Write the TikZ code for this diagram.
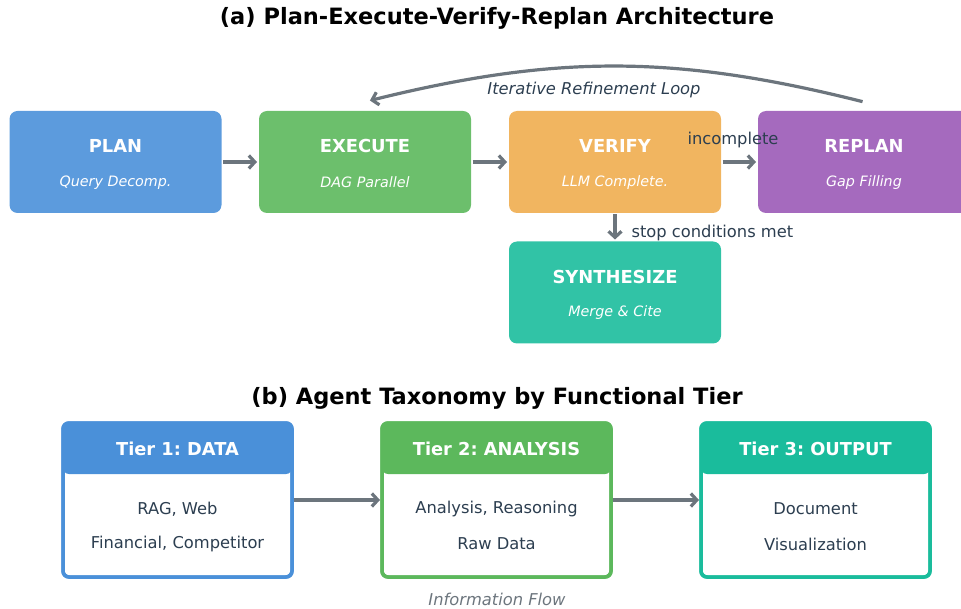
\documentclass[tikz,border=0pt]{standalone}
\usepackage{fontspec}
\setmainfont{DejaVu Sans}
\usetikzlibrary{arrows.meta,positioning}
\frenchspacing

\definecolor{planc}{HTML}{5C9BDD}
\definecolor{execc}{HTML}{6CBF6C}
\definecolor{verc}{HTML}{F1B560}
\definecolor{replc}{HTML}{A56ABE}
\definecolor{sync}{HTML}{31C3A6}
\definecolor{tieronec}{HTML}{4A90D9}
\definecolor{tiertwoc}{HTML}{5CB85C}
\definecolor{tierthreec}{HTML}{1ABC9C}
\definecolor{inkc}{HTML}{2C3E50}
\definecolor{flowc}{HTML}{6C757D}

\newcommand{\fs}[1]{\fontsize{#1}{#1}\selectfont}

\begin{document}
\begin{tikzpicture}[x=1pt,y=-1pt,
    stage/.style={rounded corners=8pt, minimum width=212pt, minimum height=102pt,
      inner sep=0pt, outer sep=0pt},
    stagetitle/.style={text=white, font=\fs{17.9}\bfseries},
    stagesub/.style={text=white, font=\fs{14.3}\itshape},
    tier/.style={draw, line width=3.5pt, rounded corners=6pt, fill=white,
      minimum width=229pt, minimum height=154pt, inner sep=0pt, outer sep=0pt},
    tierline/.style={text=inkc, font=\fs{16.3}},
    flow/.style={line width=3.2pt, draw=flowc, shorten <=1.5pt, shorten >=2pt,
      -{Straight Barb[length=6pt,width=13pt]}},
    note/.style={text=inkc, font=\fs{16.3}},
    heading/.style={font=\fs{22.5}\bfseries}]
  \useasboundingbox (0,0) rectangle (961,609);

  % (a) plan-execute-verify-replan
  \node[heading] (titlea) at (497,18) {(a) Plan-Execute-Verify-Replan Architecture};
  \foreach \nm/\xx/\yy/\col/\ttl/\sub in {
      plan/115.5/162/planc/PLAN/{Query Decomp.},
      execute/365/162/execc/EXECUTE/{DAG Parallel},
      verify/615/162/verc/VERIFY/{LLM Complete.},
      replan/864/162/replc/REPLAN/{Gap Filling},
      synth/615/292.5/sync/SYNTHESIZE/{Merge \& Cite}}
   {
    \node[stage, fill=\col] (\nm) at (\xx,\yy) {};
    \node[stagetitle] (\nm title) at ([yshift=16pt]\nm.center) {\ttl};
    \node[stagesub] (\nm sub) at ([yshift=-20.5pt]\nm.center) {\sub};
   }
  \draw[flow] (plan) -- (execute);
  \draw[flow] (execute) -- (verify);
  \draw[flow] (verify) -- (replan);
  \draw[flow] (verify) -- (synth);
  \node[note] (incomplete) at (733,140) {incomplete};
  \node[note, anchor=west] (stopmet) at (628,233) {stop conditions met};
  % loop back
  \coordinate (loopstart) at ([yshift=9pt]replan.north);
  \coordinate (loopend) at ([xshift=3pt,yshift=10pt]execute.north);
  \draw[flow] (loopstart) to[bend right=14] (loopend);
  \node[text=inkc, font=\fs{16.3}\itshape] (looplabel) at (594,90) {Iterative Refinement Loop};

  % (b) agent taxonomy
  \node[heading] (titleb) at (497,398) {(b) Agent Taxonomy by Functional Tier};
  \foreach \nm/\xx/\col/\ttl/\la/\lb in {
      tierone/177.5/tieronec/{Tier 1: DATA}/{RAG, Web}/{Financial, Competitor},
      tiertwo/496.5/tiertwoc/{Tier 2: ANALYSIS}/{Analysis, Reasoning}/{Raw Data},
      tierthree/815.5/tierthreec/{Tier 3: OUTPUT}/{Document}/{Visualization}}
   {
    \node[tier, draw=\col] (\nm) at (\xx,500) {};
    \fill[\col, rounded corners=6pt] (\nm.north west) rectangle ([yshift=-51pt]\nm.north east);
    \draw[\col, line width=3.5pt, rounded corners=6pt] (\nm.north west) rectangle (\nm.south east);
    \node[text=white, font=\fs{17.8}\bfseries] (\nm head) at ([yshift=-26pt]\nm.north) {\ttl};
    \node[tierline] (\nm a) at ([yshift=-9pt]\nm.center) {\la};
    \node[tierline] (\nm b) at ([yshift=-44pt]\nm.center) {\lb};
   }
  \draw[flow] (tierone) -- (tiertwo);
  \draw[flow] (tiertwo) -- (tierthree);
  \node[text=flowc, font=\fs{16.3}\itshape] (infoflow) at (497,599) {Information Flow};
\end{tikzpicture}
\end{document}
